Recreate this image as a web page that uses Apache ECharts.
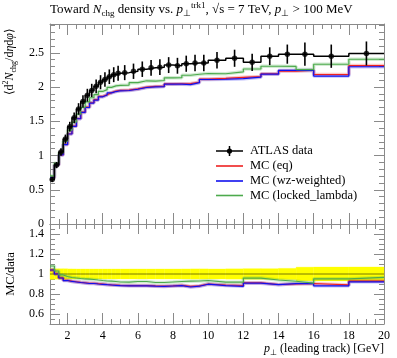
<!DOCTYPE html>
<html><head><meta charset="utf-8">
<script src="https://cdn.jsdelivr.net/npm/echarts@6/dist/echarts.min.js"></script>
<style>html,body{margin:0;padding:0;background:#fff}#c{width:397px;height:358px}</style>
</head><body><div id="c"></div>
<script>
// ---- data ----
const binEdges = [1,1.25,1.5,1.75,2,2.25,2.5,2.75,3,3.25,3.5,3.75,4,4.25,4.5,4.75,5,5.5,6,6.5,7,7.5,8,8.5,9,9.5,10,11,12,13,14,15,16,18,20];
const dataVals = [0.65,0.86,1.05,1.24,1.42,1.55,1.68,1.79,1.88,1.95,2.01,2.07,2.11,2.15,2.18,2.20,2.21,2.23,2.26,2.28,2.29,2.32,2.31,2.34,2.35,2.35,2.39,2.42,2.36,2.45,2.48,2.48,2.45,2.49];
const dataErr  = [0.035,0.045,0.055,0.065,0.072,0.078,0.084,0.09,0.094,0.097,0.10,0.103,0.105,0.107,0.109,0.11,0.11,0.112,0.113,0.114,0.115,0.116,0.116,0.118,0.12,0.12,0.12,0.125,0.126,0.13,0.14,0.17,0.17,0.175];
const mcEq     = [0.676,0.862,1.010,1.162,1.318,1.430,1.540,1.633,1.706,1.770,1.815,1.862,1.889,1.918,1.940,1.950,1.955,1.972,1.998,2.008,2.012,2.045,2.048,2.050,2.070,2.115,2.127,2.142,2.152,2.193,2.232,2.245,2.183,2.313];
const mcWz     = [0.676,0.860,1.008,1.159,1.314,1.426,1.537,1.629,1.701,1.765,1.809,1.857,1.884,1.914,1.934,1.945,1.949,1.967,1.993,2.002,2.006,2.042,2.042,2.036,2.063,2.110,2.113,2.122,2.143,2.188,2.242,2.245,2.160,2.296];
const mcLocked = [0.702,0.886,1.040,1.209,1.370,1.488,1.604,1.701,1.782,1.843,1.889,1.935,1.962,1.995,2.017,2.024,2.029,2.063,2.091,2.086,2.095,2.134,2.137,2.172,2.186,2.197,2.194,2.222,2.263,2.303,2.300,2.255,2.332,2.405];
const xTicks = [2,4,6,8,10,12,14,16,18,20];
const yMainTicks = [0,0.5,1,1.5,2,2.5];
const yRatioTicks = [0.6,0.8,1,1.2,1.4];

// ---- helpers ----
const FONT = 'Liberation Serif';
const AX = '#8a8a8a';
const C_RED = '#ee2222', C_BLUE = '#1111ee', C_GREEN = '#4daa4d';
function steps(vals){ const out=[]; vals.forEach((v,i)=>{ out.push([binEdges[i],v]); out.push([binEdges[i+1],v]); }); return out; }
const centers = dataVals.map((v,i)=>(binEdges[i]+binEdges[i+1])/2);
const ratio = arr => arr.map((v,i)=>v/dataVals[i]);

function axisPair(dim, gridIndex, position, min, max, majorVals, minorInterval, majorLen, minorLen, showLabels, showLine){
  const major = {
    type:'value', gridIndex, position, min, max,
    axisLine:{show:showLine, onZero:false, lineStyle:{color:AX, width:1}},
    axisTick:{show:true, inside:true, length:majorLen, customValues:majorVals, lineStyle:{color:AX, width:1}},
    axisLabel:{show:showLabels, customValues:majorVals, color:'#000', fontFamily:FONT, fontSize:12, margin:6},
    splitLine:{show:false}
  };
  const minor = {
    type:'value', gridIndex, position, min, max, interval:minorInterval,
    axisLine:{show:false, onZero:false},
    axisTick:{show:true, inside:true, length:minorLen, lineStyle:{color:AX, width:1}},
    axisLabel:{show:false}, splitLine:{show:false}
  };
  return [major, minor];
}

const xAxis = [
  ...axisPair('x',0,'bottom',1,20,xTicks,0.5,11,5,false,true),   // 0,1
  ...axisPair('x',0,'top',1,20,xTicks,0.5,11,5,false,true),      // 2,3
  ...axisPair('x',1,'bottom',1,20,xTicks,0.5,11,5,true,true),    // 4,5
  ...axisPair('x',1,'top',1,20,xTicks,0.5,10,5,false,true)       // 6,7
];
const yAxis = [
  ...axisPair('y',0,'left',0,2.92,yMainTicks,0.1,10,5,true,true),   // 0,1
  ...axisPair('y',0,'right',0,2.92,yMainTicks,0.1,10,5,false,true), // 2,3
  ...axisPair('y',1,'left',0.5,1.5,yRatioTicks,0.05,10,5,true,true),   // 4,5
  ...axisPair('y',1,'right',0.5,1.5,yRatioTicks,0.05,10,5,false,true)  // 6,7
];

function stepLine(name, vals, color, xi, yi, width, z){
  return {name, type:'line', xAxisIndex:xi, yAxisIndex:yi, data:steps(vals), showSymbol:false, symbol:'none',
    lineStyle:{color, width}, itemStyle:{color}, z, silent:true, animation:false};
}
function halo(vals, color, xi, yi, z){
  return {type:'line', xAxisIndex:xi, yAxisIndex:yi, data:steps(vals), showSymbol:false, symbol:'none',
    lineStyle:{color, width:3.5, opacity:0.25}, z, silent:true, animation:false};
}

const errData = dataVals.map((v,i)=>[centers[i], v, dataErr[i]]);
const bandData = dataVals.map((v,i)=>[binEdges[i], binEdges[i+1], dataErr[i]/v]);

const series = [
  // main panel
  halo(mcEq, C_RED, 0, 0, 2), stepLine('MC (eq)', mcEq, C_RED, 0, 0, 1.2, 3),
  halo(mcWz, C_BLUE, 0, 0, 2), stepLine('MC (wz-weighted)', mcWz, C_BLUE, 0, 0, 1.2, 3),
  halo(mcLocked, C_GREEN, 0, 0, 2), stepLine('MC (locked_lambda)', mcLocked, C_GREEN, 0, 0, 1.2, 3),
  stepLine('ATLAS data', dataVals, '#000', 0, 0, 1.5, 5),
  {type:'custom', xAxisIndex:0, yAxisIndex:0, data:errData, encode:{x:0,y:1}, z:6, silent:true, animation:false,
    renderItem:(params, api)=>{
      const x=api.value(0), y=api.value(1), e=api.value(2);
      const p1=api.coord([x,y-e]), p2=api.coord([x,y+e]);
      return {type:'line', shape:{x1:p1[0],y1:p1[1],x2:p2[0],y2:p2[1]}, style:{stroke:'#000', lineWidth:1.6}};
    }},
  {type:'scatter', xAxisIndex:0, yAxisIndex:0, data:dataVals.map((v,i)=>[centers[i],v]), symbol:'circle', symbolSize:5.5,
    itemStyle:{color:'#000'}, z:7, silent:true, animation:false},
  // ratio panel
  {type:'custom', xAxisIndex:4, yAxisIndex:4, data:bandData, encode:{x:[0,1]}, z:1, silent:true, animation:false,
    renderItem:(params, api)=>{
      const lo=api.value(0), hi=api.value(1), e=api.value(2);
      const a=api.coord([lo,1+e]), b=api.coord([hi,1-e]);
      return {type:'rect', shape:{x:a[0], y:a[1], width:b[0]-a[0], height:b[1]-a[1]}, style:{fill:'#ffff00', stroke:'#ffff00', lineWidth:0.3}};
    }},
  stepLine('ratio data', dataVals.map(()=>1), '#555500', 4, 4, 0.8, 2),
  halo(ratio(mcEq), C_RED, 4, 4, 2), stepLine('r eq', ratio(mcEq), C_RED, 4, 4, 1.2, 3),
  halo(ratio(mcWz), C_BLUE, 4, 4, 2), stepLine('r wz', ratio(mcWz), C_BLUE, 4, 4, 1.2, 3),
  halo(ratio(mcLocked), C_GREEN, 4, 4, 2), stepLine('r locked', ratio(mcLocked), C_GREEN, 4, 4, 1.2, 3)
];

const rich = {
  n:{fontFamily:FONT, fontSize:12, lineHeight:16, verticalAlign:'middle'},
  i:{fontFamily:FONT, fontSize:12, fontStyle:'italic', lineHeight:16, verticalAlign:'middle'},
  sub:{fontFamily:FONT, fontSize:8, lineHeight:8, verticalAlign:'bottom'},
  sup:{fontFamily:FONT, fontSize:8, lineHeight:8, verticalAlign:'top'}
};
const richT = {
  n:{fontFamily:FONT, fontSize:13, lineHeight:17, verticalAlign:'middle'},
  i:{fontFamily:FONT, fontSize:13, fontStyle:'italic', lineHeight:17, verticalAlign:'middle'},
  sub:{fontFamily:FONT, fontSize:9, lineHeight:9, verticalAlign:'bottom'},
  sup:{fontFamily:FONT, fontSize:9, lineHeight:9, verticalAlign:'top'}
};

const legendRows = [
  {label:'ATLAS data', color:'#000', y:151},
  {label:'MC (eq)', color:C_RED, y:166},
  {label:'MC (wz-weighted)', color:C_BLUE, y:181},
  {label:'MC (locked_lambda)', color:C_GREEN, y:195.5}
];
const graphic = [];
legendRows.forEach((r,k)=>{
  graphic.push({type:'line', shape:{x1:216,y1:r.y,x2:243,y2:r.y}, style:{stroke:r.color, lineWidth:k===0?1.5:1.6}, z:10});
  graphic.push({type:'text', x:250, y:r.y, style:{text:r.label, fontFamily:FONT, fontSize:12.5, fill:'#000', verticalAlign:'middle'}, z:10});
});
graphic.push({type:'circle', shape:{cx:229.5, cy:151, r:2.6}, style:{fill:'#000'}, z:11});
graphic.push({type:'line', shape:{x1:229.5,y1:146,x2:229.5,y2:156}, style:{stroke:'#000', lineWidth:1.5}, z:11});
// title
graphic.push({type:'text', x:50, y:10, style:{
  text:'{n|Toward }{i|N}{sub|chg}{n| density vs. }{i|p}{sub|⊥}{sup|trk1}{n|, √s = 7 TeV, }{i|p}{sub|⊥}{n| > 100 MeV}',
  rich:richT, verticalAlign:'middle', fill:'#000'}, z:10});
// y labels
graphic.push({type:'text', x:10, y:28, rotation:Math.PI/2, style:{
  text:'{n|⟨d}{sup|2}{i|N}{sub|chg}{n|/d}{i|η}{n|d}{i|φ}{n|⟩}', rich, align:'right', verticalAlign:'middle', fill:'#000'}, z:10});
graphic.push({type:'text', x:11, y:274, rotation:Math.PI/2, style:{
  text:'MC/data', fontFamily:FONT, fontSize:12.5, align:'center', verticalAlign:'middle', fill:'#000'}, z:10});
// x label
graphic.push({type:'text', x:384, y:349, style:{
  text:'{i|p}{sub|⊥}{n| (leading track) [GeV]}', rich, align:'right', verticalAlign:'middle', fill:'#000'}, z:10});

const chart = echarts.init(document.getElementById('c'));
chart.setOption({
  animation:false,
  backgroundColor:'#fff',
  grid:[
    {left:50, top:24, width:334, height:200},
    {left:50, top:224, width:334, height:100}
  ],
  xAxis, yAxis, series, graphic
});
</script>
</body></html>
